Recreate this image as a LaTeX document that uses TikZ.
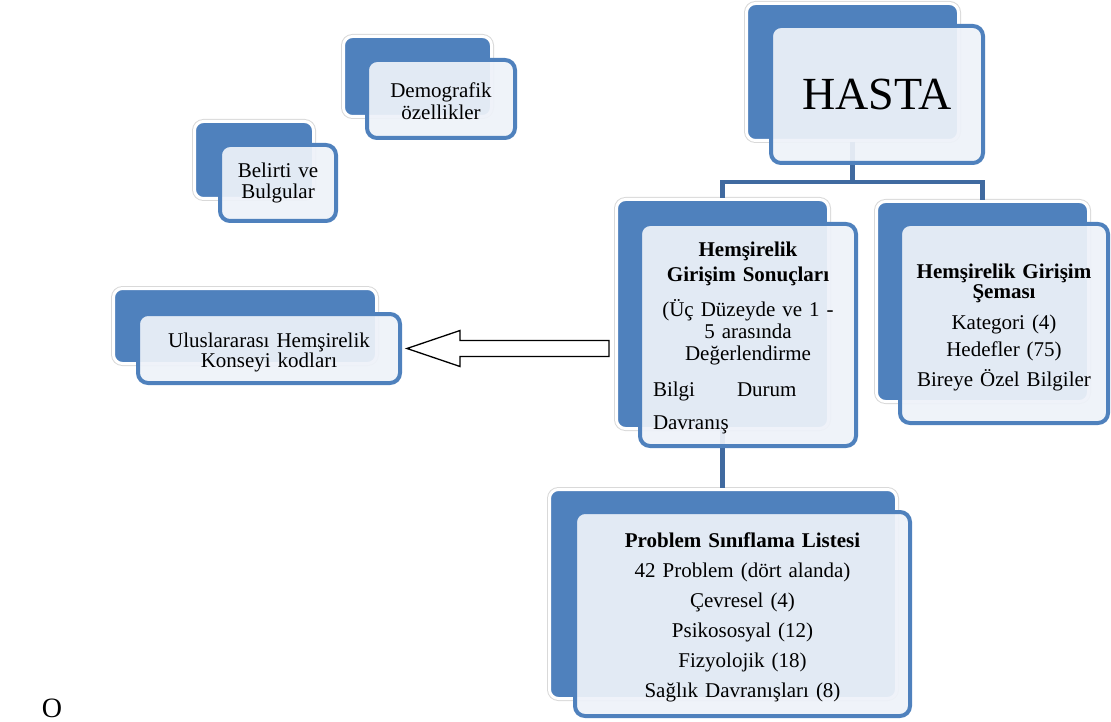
\documentclass[tikz,border=0pt]{standalone}
\usepackage{fontspec}
\setmainfont{Liberation Serif}
\usetikzlibrary{positioning,calc}
\definecolor{boxblue}{RGB}{79,129,189}
\definecolor{linkblue}{RGB}{64,106,160}
\definecolor{paleblue}{RGB}{238,242,249}

\begin{document}
\begin{tikzpicture}[x=1pt,y=-1pt]

        \tikzstyle{back}=[shape=rectangle,rounded corners=9pt,fill=boxblue,draw=white,line width=3pt,preaction={draw=black!15,line width=5pt}]
        \tikzstyle{front}=[shape=rectangle,rounded corners=10pt,draw=boxblue,line width=4pt,fill=paleblue,fill opacity=0.93,text opacity=1,align=center,font=\fontsize{21}{22}\selectfont]
        \tikzstyle{link}=[draw=linkblue,line width=4.5pt]
        \tikzstyle{bigarrow}=[draw=black,fill=white,line width=1.3pt,line join=miter]

        \useasboundingbox (0,0) rectangle (1111,722);

        \node[back,minimum width=212pt,minimum height=137pt] (hastaB) at (852.5,72) {};
        \node[back,minimum width=212pt,minimum height=229pt] (sonucB) at (722.5,314) {};
        \node[back,minimum width=212pt,minimum height=200pt] (semaB) at (982.5,301.5) {};
        \node[back,minimum width=347pt,minimum height=209pt] (listeB) at (723,594) {};
        \node[back,minimum width=263pt,minimum height=75pt] (kodB) at (245,326) {};
        \node[back,minimum width=148pt,minimum height=80pt] (demoB) at (417.5,76.5) {};
        \node[back,minimum width=119pt,minimum height=77pt] (belirtiB) at (254,160) {};

        \draw[link] (hastaB.south) -- ++(0,40) -| (sonucB.north);
        \draw[link] (hastaB.south) -- ++(0,40) -| (semaB.north);
        \draw[link] (sonucB.south) -- (sonucB.south |- listeB.north);

        \node[front,minimum width=212pt,minimum height=137pt,font=\fontsize{46}{50}\selectfont] (hasta) at (877,94.5) {HASTA};
        \node[front,minimum width=216pt,minimum height=222pt,text width=200pt] (sonuc) at (748,335) {\rule{0pt}{21pt}\textbf{Hemşirelik}\\[3pt] \textbf{Girişim Sonuçları}\\[13pt] (Üç Düzeyde ve 1 -\\ 5 arasında\\ Değerlendirme\\[14pt] \makebox[200pt][l]{\hspace{5pt}\makebox[84pt][l]{Bilgi}Durum}\\[11pt] \makebox[200pt][l]{\hspace{5pt}Davranış}};
        \node[front,minimum width=208pt,minimum height=199pt,text width=195pt] (sema) at (1004,323.5) {\rule{0pt}{23pt}\textbf{Hemşirelik Girişim}\\[-2pt] \textbf{Şeması}\\[9pt] Kategori (4)\\[5pt] Hedefler (75)\\[8pt] Bireye Özel Bilgiler};
        \node[front,minimum width=335pt,minimum height=204pt,text width=300pt] (liste) at (742.5,614) {\rule{0pt}{21pt}\textbf{Problem Sınıflama Listesi}\\[8pt] 42 Problem (dört alanda)\\[8pt] Çevresel (4)\\[8pt] Psikososyal (12)\\[8pt] Fizyolojik (18)\\[8pt] Sağlık Davranışları (8)};
        \node[front,minimum width=262pt,minimum height=69pt,text width=250pt] (kod) at (269,348.5) {\rule{0pt}{23pt}Uluslararası Hemşirelik\\[-2pt] Konseyi kodları};
        \node[front,minimum width=148pt,minimum height=78pt,text width=136pt] (demo) at (441,99) {\rule{0pt}{19pt}Demografik\\ özellikler};
        \node[front,minimum width=116pt,minimum height=76pt,text width=106pt] (belirti) at (278,183) {Belirti ve\\[-1pt] Bulgular};

        \coordinate (ucu) at ($(kod.east)+(5,0)$);
        \coordinate (kuyruk) at ($(sonucB.west |- ucu)+(-6,0)$);
        \draw[bigarrow] (ucu) -- ++(53,-18) -- ++(0,10) -- ($(kuyruk)+(0,-8)$) -- ($(kuyruk)+(0,8)$) -- ($(ucu)+(53,8)$) -- ++(0,10) -- cycle;

        \node[font=\fontsize{28}{30}\selectfont] (harf) at (52,708) {O};
      \end{tikzpicture}
\end{document}
